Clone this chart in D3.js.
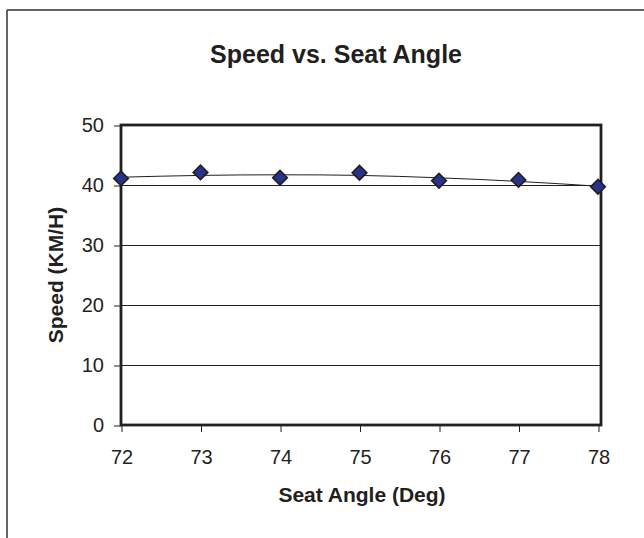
<!DOCTYPE html>
<html>
<head>
<meta charset="utf-8">
<script src="https://cdn.jsdelivr.net/npm/d3@7"></script>
<style>
  html, body { margin: 0; padding: 0; background: #fff; }
  svg { display: block; }
  text { font-family: "Liberation Sans", Arial, sans-serif; fill: #231f20; }
</style>
</head>
<body>
<script>
// ---- data ----
const seatAngles = [72, 73, 74, 75, 76, 77, 78];
const speeds = [41.1, 42.1, 41.2, 42.05, 40.7, 40.85, 39.7];
// trendline values
const trendSpeeds = [41.3, 41.6, 41.7, 41.6, 41.2, 40.6, 39.8];
const xTicks = [72, 73, 74, 75, 76, 77, 78];
const yTicks = [0, 10, 20, 30, 40, 50];
const titleText = "Speed vs. Seat Angle";
const xTitle = "Seat Angle (Deg)";
const yTitle = "Speed (KM/H)";

const W = 644, H = 538;
const svg = d3.select("body").append("svg").attr("width", W).attr("height", H);
const ink = "#231f20";
const font = "Liberation Sans, Arial, sans-serif";

// outer frame (top and left edges visible)
svg.append("line").attr("x1", 7).attr("x2", W).attr("y1", 10).attr("y2", 10)
  .attr("stroke", "#333").attr("stroke-width", 1.5);
svg.append("line").attr("x1", 7).attr("x2", 7).attr("y1", 10).attr("y2", H)
  .attr("stroke", "#333").attr("stroke-width", 1.5);

const plot = { left: 121, right: 601, top: 125, bottom: 425 };
const x = d3.scaleLinear().domain([72, 78]).range([plot.left, 598]);
const y = d3.scaleLinear().domain([0, 50]).range([plot.bottom, plot.top]);

// gridlines
svg.append("g").selectAll("line").data(yTicks.filter(d => d > 0 && d < 50)).join("line")
  .attr("x1", plot.left).attr("x2", plot.right)
  .attr("y1", d => Math.round(y(d)) + 0.5).attr("y2", d => Math.round(y(d)) + 0.5)
  .attr("stroke", ink).attr("stroke-width", 1);

// y axis
const yAxis = d3.axisLeft(y).tickValues(yTicks).tickSize(7).tickPadding(10);
const gy = svg.append("g").attr("transform", `translate(${plot.left},0.5)`).call(yAxis);
gy.select(".domain").remove();
gy.selectAll(".tick line").attr("stroke", ink).attr("stroke-width", 1);
gy.selectAll(".tick text").attr("font-size", 20).style("font-family", font).attr("fill", ink);

// x axis
const xAxis = d3.axisBottom(x).tickValues(xTicks).tickSize(7).tickPadding(18).tickFormat(d3.format("d"));
const gx = svg.append("g").attr("transform", `translate(0.5,${plot.bottom})`).call(xAxis);
gx.select(".domain").remove();
gx.selectAll(".tick line").attr("stroke", ink).attr("stroke-width", 1);
gx.selectAll(".tick text").attr("font-size", 20).style("font-family", font).attr("fill", ink);

// plot border
svg.append("rect").attr("x", plot.left).attr("y", plot.top)
  .attr("width", plot.right - plot.left).attr("height", plot.bottom - plot.top)
  .attr("fill", "none").attr("stroke", ink).attr("stroke-width", 2.8);

// trendline
const trend = seatAngles.map((a, i) => [a, trendSpeeds[i]]);
svg.append("path").datum(trend)
  .attr("d", d3.line().x(d => x(d[0])).y(d => y(d[1])).curve(d3.curveNatural))
  .attr("fill", "none").attr("stroke", ink).attr("stroke-width", 1);

// markers
const pts = seatAngles.map((a, i) => ({ a, s: speeds[i] }));
svg.append("g").selectAll("path").data(pts).join("path")
  .attr("d", d3.symbol().type(d3.symbolSquare).size(105))
  .attr("transform", d => `translate(${x(d.a)},${y(d.s)}) rotate(45)`)
  .attr("fill", "#28348c").attr("stroke", ink).attr("stroke-width", 1.7);

// titles
svg.append("text").attr("x", 462).attr("y", 63).attr("text-anchor", "end")
  .attr("font-size", 25).attr("font-weight", "bold").text(titleText);
svg.append("text").attr("x", 362).attr("y", 502).attr("text-anchor", "middle")
  .attr("font-size", 21).attr("font-weight", "bold").text(xTitle);
svg.append("text").attr("transform", `translate(63,${(plot.top + plot.bottom) / 2}) rotate(-90)`)
  .attr("text-anchor", "middle").attr("font-size", 21).attr("font-weight", "bold").text(yTitle);
</script>
</body>
</html>
